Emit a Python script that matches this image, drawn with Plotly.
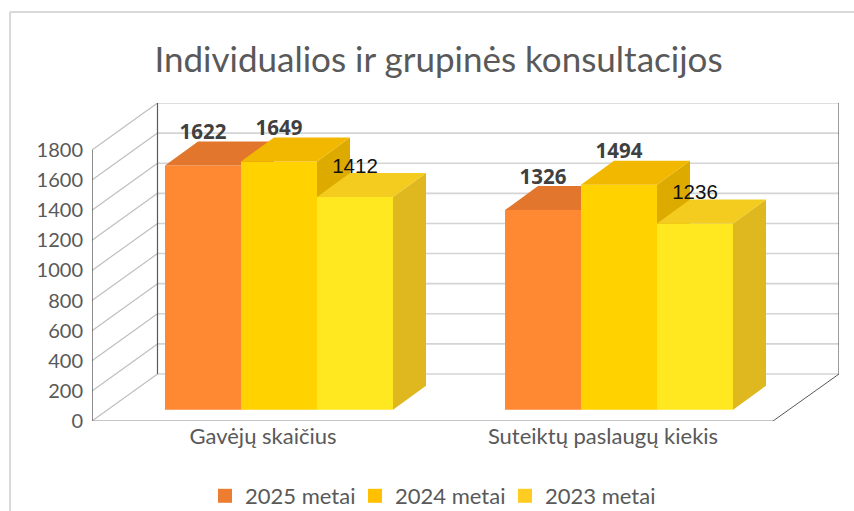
import plotly.graph_objects as go

# ---- data ----
categories = ["Gavėjų skaičius", "Suteiktų paslaugų kiekis"]
series_names = ["2025 metai", "2024 metai", "2023 metai"]
values_2025 = [1622, 1326]
values_2024 = [1649, 1494]
values_2023 = [1412, 1236]
y_ticks = [0, 200, 400, 600, 800, 1000, 1200, 1400, 1600, 1800]
title_text = "Individualios ir grupinės konsultacijos"

# ---- styles ----
front_colors = ["#FF8833", "#FFD200", "#FFE81F"]
top_colors = ["#E2762C", "#F2B800", "#F4CB1F"]
side_colors = ["#D36E22", "#DDAA00", "#DEB81E"]
legend_colors = ["#ED7D31", "#FFC000", "#FFCC22"]
label_fonts = [
    dict(family="Open Sans", size=20.5, color="#404040", weight="bold"),
    dict(family="Open Sans", size=20.5, color="#404040", weight="bold"),
    dict(family="Liberation Sans", size=20.5, color="#111111"),
]
GREY = "#595959"

# ---- projection (front plane pixels -> axis units) ----
L, R, T, B = 92, 839, 103, 421
PX_PER_CAT = 340.0
PX_PER_VAL = 271.0 / 1800
CAT0_PX = 263
xr = [(L - CAT0_PX) / PX_PER_CAT, (R - CAT0_PX) / PX_PER_CAT]
yr = [0, (B - T) / PX_PER_VAL]
wall_dx, wall_dy = 65.5 / PX_PER_CAT, 47 / PX_PER_VAL
bar_dx, bar_dy = 33 / PX_PER_CAT, 24 / PX_PER_VAL
bar_w = 76 / PX_PER_CAT
offsets = [-60 / PX_PER_CAT, 16 / PX_PER_CAT, 92 / PX_PER_CAT]
bar_base = 75
label_lifts = [31.5 / PX_PER_VAL, 31.5 / PX_PER_VAL, 29.5 / PX_PER_VAL]
top_val = y_ticks[-1]
floor_right = (773 - CAT0_PX) / PX_PER_CAT

fig = go.Figure()


def line(xs, ys, color, width):
    fig.add_trace(go.Scatter(x=xs, y=ys, mode="lines", cliponaxis=False,
                             line=dict(color=color, width=width),
                             showlegend=False, hoverinfo="skip"))


# walls and floor on the base axes
for t in y_ticks:
    line([xr[0], xr[0] + wall_dx], [t, t + wall_dy], "#BFBFBF", 1.2)
    line([xr[0] + wall_dx, xr[1]], [t + wall_dy, t + wall_dy], "#D4D4D4", 1.6)
line([xr[0] + wall_dx] * 2, [wall_dy, top_val + wall_dy], "#595959", 1.2)
line([xr[1]] * 2, [wall_dy, top_val + wall_dy], "#595959", 1.2)
line([xr[0]] * 2, [0, top_val], "#404040", 1.2)
line([xr[0], floor_right], [0, 0], "#8C8C8C", 1.2)
line([floor_right, xr[1]], [0, wall_dy], "#595959", 1)

# one overlaid axis pair per series, so each series paints over the previous one
all_values = [values_2025, values_2024, values_2023]
for s, values in enumerate(all_values):
    xa = f"x{s + 2}"
    ya = f"y{s + 2}"
    centers = [i + offsets[s] for i in range(len(categories))]
    fig.add_trace(go.Bar(x=centers, y=values, base=bar_base, width=bar_w,
                         xaxis=xa, yaxis=ya, name=series_names[s],
                         marker=dict(color=front_colors[s], line=dict(width=0)),
                         showlegend=False, hovertemplate="%{y}<extra></extra>"))
    side_x, side_y, top_x, top_y = [], [], [], []
    for c, v in zip(centers, values):
        left, right = c - bar_w / 2, c + bar_w / 2
        h = bar_base + v
        side_x += [right, right + bar_dx, right + bar_dx, right, None]
        side_y += [bar_base, bar_base + bar_dy, h + bar_dy, h, None]
        top_x += [left, right, right + bar_dx, left + bar_dx, None]
        top_y += [h, h, h + bar_dy, h + bar_dy, None]
    for fx, fy, col in ((side_x, side_y, side_colors[s]), (top_x, top_y, top_colors[s])):
        fig.add_trace(go.Scatter(x=fx, y=fy, xaxis=xa, yaxis=ya, mode="lines",
                                 fill="toself", fillcolor=col, line=dict(width=0),
                                 showlegend=False, hoverinfo="skip"))

# value labels on the last overlay, above all faces
for s, values in enumerate(all_values):
    centers = [i + offsets[s] for i in range(len(categories))]
    fig.add_trace(go.Scatter(x=centers, y=[bar_base + v + label_lifts[s] for v in values],
                             xaxis="x4", yaxis="y4", mode="text",
                             text=[str(v) for v in values],
                             textposition="middle center", textfont=label_fonts[s],
                             cliponaxis=False, showlegend=False, hoverinfo="skip"))

# legend entries
for s, name in enumerate(series_names):
    fig.add_trace(go.Scatter(x=[None], y=[None], mode="markers", name=name,
                             marker=dict(symbol="square", size=14, color=legend_colors[s])))

paper_x = lambda px: (px - L) / (R - L)
paper_y = lambda py: (B - py) / (B - T)

layout_axes = {}
for n in (2, 3, 4):
    layout_axes[f"xaxis{n}"] = dict(range=xr, overlaying="x", visible=False, fixedrange=True)
    layout_axes[f"yaxis{n}"] = dict(range=yr, overlaying="y", visible=False, fixedrange=True)

fig.update_layout(
    width=854, height=511,
    margin=dict(l=L, r=854 - R, t=T, b=511 - B, autoexpand=False),
    paper_bgcolor="white", plot_bgcolor="white",
    barmode="overlay",
    title=dict(text=title_text, x=438.5 / 854, xanchor="center", xref="container",
               y=1 - 60 / 511, yanchor="middle", yref="container",
               font=dict(family="Lato", size=35, color=GREY)),
    xaxis=dict(range=xr, tickmode="array", tickvals=[0, 1], ticktext=categories,
               showgrid=False, zeroline=False, showline=False, ticks="", ticklen=0,
               fixedrange=True,
               tickfont=dict(family="Lato", size=22, color=GREY)),
    yaxis=dict(range=yr, tickmode="array", tickvals=y_ticks,
               showgrid=False, zeroline=False, showline=False, ticks="outside", ticklen=4,
               tickcolor="rgba(0,0,0,0)", fixedrange=True,
               tickfont=dict(family="Lato", size=20, color=GREY)),
    legend=dict(orientation="h", x=205 / 854, xref="container", xanchor="left",
                y=1 - 496 / 511, yref="container", yanchor="middle",
                entrywidth=105, entrywidthmode="pixels",
                font=dict(family="Lato", size=22, color=GREY),
                bgcolor="rgba(0,0,0,0)"),
    shapes=[
        dict(type="line", xref="paper", yref="paper", x0=paper_x(10), x1=paper_x(854),
             y0=paper_y(12), y1=paper_y(12), line=dict(color="#D9D9D9", width=2)),
        dict(type="line", xref="paper", yref="paper", x0=paper_x(10), x1=paper_x(10),
             y0=paper_y(12), y1=paper_y(511), line=dict(color="#D9D9D9", width=2)),
    ],
    **layout_axes,
)

fig.write_html("out.html", config={"displayModeBar": False},
               post_script="document.body.style.margin='0';document.documentElement.style.overflow='hidden';")
